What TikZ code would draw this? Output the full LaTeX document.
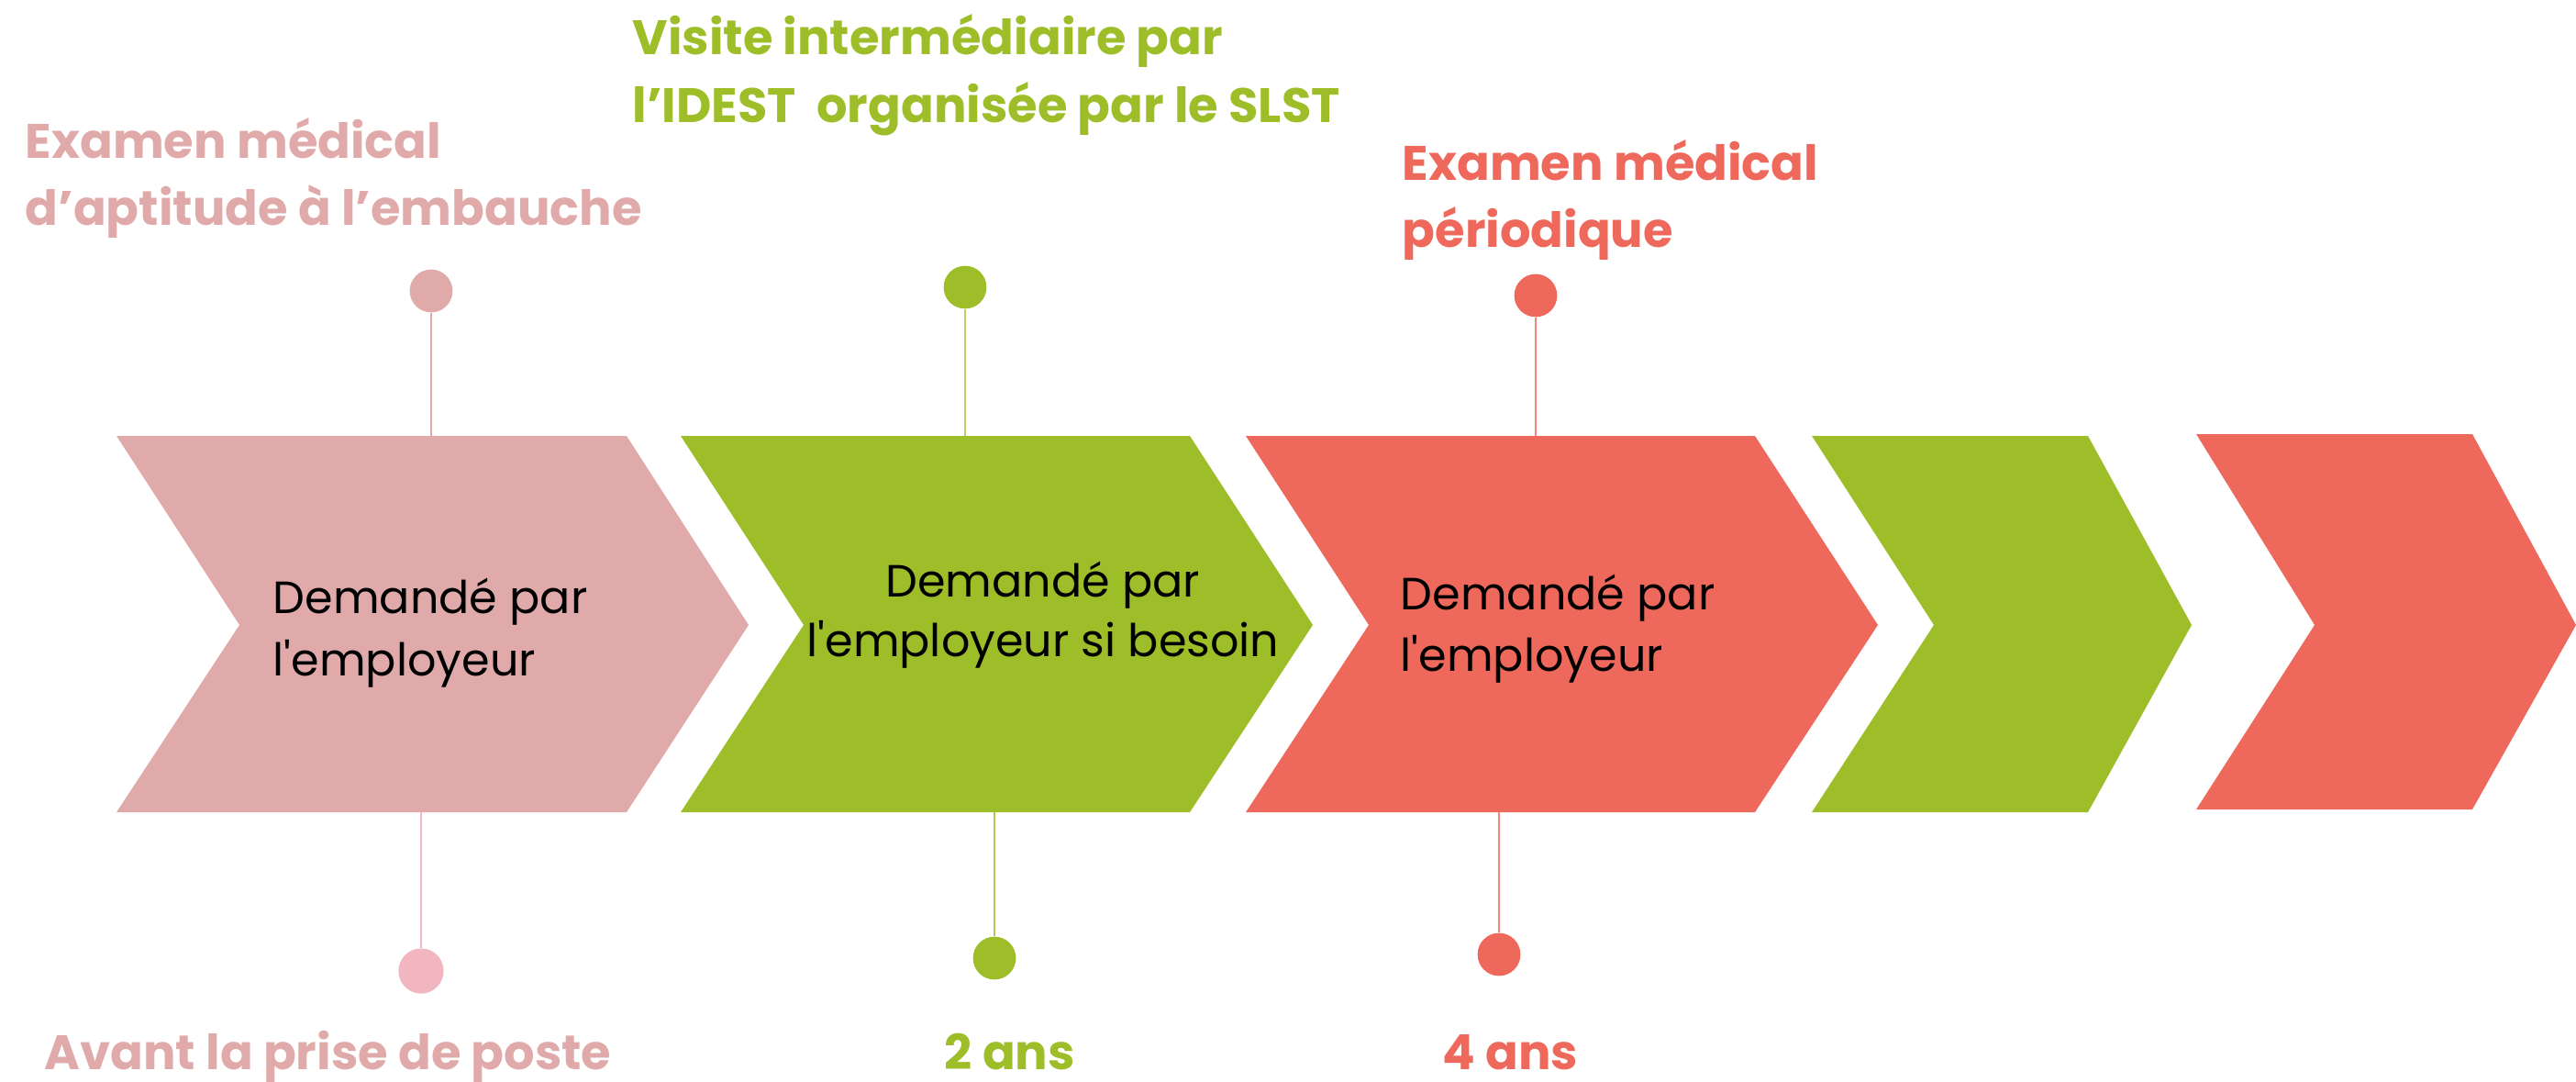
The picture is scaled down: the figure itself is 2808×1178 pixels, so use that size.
\documentclass[tikz,border=0pt]{standalone}
\usepackage{fontspec}
\setmainfont{Poppins}
\newfontfamily\plainpop{Poppins}[Ligatures=TeXOff]
\usepackage{tikz}
\usetikzlibrary{positioning}

\definecolor{rose}{HTML}{E0AAAA}
\definecolor{roselight}{HTML}{F2B6C1}
\definecolor{lime}{HTML}{9EBE29}
\definecolor{coral}{HTML}{EE695C}

\tikzset{
  head/.style={anchor=base west, inner sep=0pt, font=\fontsize{15}{18}\selectfont\bfseries},
  body/.style={anchor=base west, inner sep=0pt, font=\plainpop\fontsize{14}{17}\selectfont},
  dot/.style={circle, fill=#1, inner sep=0pt, minimum size=13.3pt},
  stem/.style={draw=#1, line width=0.7pt}
}

\begin{document}
\begin{tikzpicture}[x=0.01cm, y=-0.01cm]
        \useasboundingbox (0,0) rectangle (2808,1178);

        % chevrons
        \fill[rose]  (127,475) -- (683,475) -- (816,681) -- (683,885) -- (127,885) -- (261,681) -- cycle;
        \fill[lime]  (742,475) -- (1297,475) -- (1431,681) -- (1297,885) -- (742,885) -- (876,681) -- cycle;
        \fill[coral] (1358,475) -- (1913,475) -- (2047,681) -- (1913,885) -- (1358,885) -- (1492,681) -- cycle;
        \fill[lime]  (1975,475) -- (2276,475) -- (2389,681) -- (2276,885) -- (1975,885) -- (2108,681) -- cycle;
        \fill[coral] (2394,473) -- (2695,473) -- (2808,681) -- (2695,882) -- (2394,882) -- (2523,681) -- cycle;

        \coordinate (top1) at (470,475);
        \coordinate (top2) at (1052,475);
        \coordinate (top3) at (1674,475);
        \coordinate (bot1) at (459,885);
        \coordinate (bot2) at (1084,885);
        \coordinate (bot3) at (1634,885);

        % pins above
        \node (dotA) [dot=rose] at (470,317) {};
        \node (dotB) [dot=lime] at (1052,313) {};
        \node (dotC) [dot=coral] at (1674,322) {};
        \draw[stem=rose] (dotA) -- (top1);
        \draw[stem=lime!70] (dotB) -- (top2);
        \draw[stem=coral!80] (dotC) -- (top3);

        % pins below
        \node (dotD) [dot=roselight, minimum size=14pt] at (459,1058) {};
        \node (dotE) [dot=lime] at (1084,1044) {};
        \node (dotF) [dot=coral] at (1634,1040) {};
        \draw[stem=roselight] (bot1) -- (dotD);
        \draw[stem=lime!80] (bot2) -- (dotE);
        \draw[stem=coral!80] (bot3) -- (dotF);

        % titles
        \node (hireA) [head, text=rose] at (27,172) {Examen médical};
        \node (hireB) [head, text=rose] at (27,245) {d’aptitude à l’embauche};
        \node (midA) [head, text=lime] at (689,59) {Visite intermédiaire par};
        \node (midB) [head, text=lime] at (689,133) {l’IDEST~ organisée par le SLST};
        \node (periA) [head, text=coral] at (1528,196) {Examen médical};
        \node (periB) [head, text=coral] at (1528,269) {périodique};

        % delays
        \node (delayA) [head, text=rose] at (48,1165) {Avant la prise de poste};
        \node (delayB) [head, text=lime] at (1029,1165) {2 ans};
        \node (delayC) [head, text=coral] at (1572,1165) {4 ans};

        % inside the chevrons
        \node (askA1) [body] at (297,668) {Demandé par};
        \node (askA2) [body] at (297,736) {l'employeur};
        \node (askB1) [body, anchor=base] at (1137,650) {Demandé par};
        \node (askB2) [body, anchor=base] at (1137,715) {l'employeur si besoin};
        \node (askC1) [body] at (1526,664) {Demandé par};
        \node (askC2) [body] at (1526,731) {l'employeur};
    \end{tikzpicture}
\end{document}
